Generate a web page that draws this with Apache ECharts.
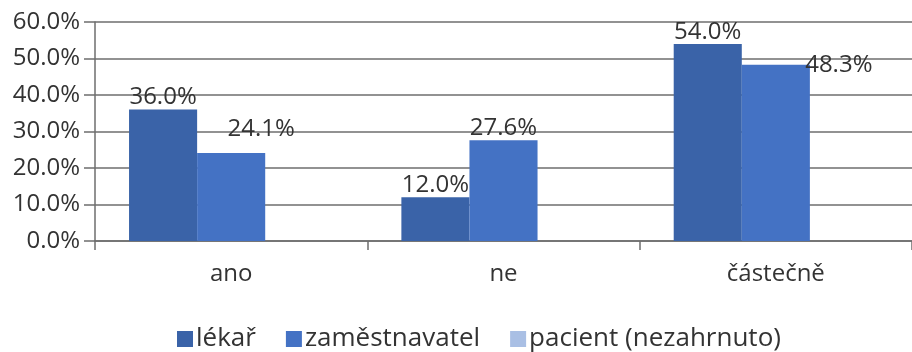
<!DOCTYPE html>
<html>
<head>
<meta charset="utf-8">
<script src="https://cdn.jsdelivr.net/npm/echarts@6/dist/echarts.min.js"></script>
<style>
    html, body { margin: 0; padding: 0; background: #fff; }
    #chart { width: 912px; height: 352px; }
</style>
</head>
<body>
<div id="chart"></div>
<script>
const categories = ['ano', 'ne', 'částečně']
const lekar = [36.0, 12.0, 54.0]
const zamestnavatel = [24.1, 27.6, 48.3]
const pacient = [0, 0, 0]
const yTicks = [0, 10, 20, 30, 40, 50, 60]
// labels moved by hand in the original, one offset per point
const lekarLabelOffsets = [[0, 0], [0, 0], [0, 0]]
const zamLabelOffsets = [[30, -12], [0, 0], [63, 12]]

const font = 'Open Sans'
const textColor = '#333333'
const lineColor = '#6e6e6e'

const chart = echarts.init(document.getElementById('chart'))

function barLabel() {
    return {
        show: true,
        position: 'top',
        distance: 0,
        fontFamily: font,
        fontSize: 24,
        color: textColor,
        formatter: p => p.value.toFixed(1) + '%'
    }
}

function withOffsets(values, offsets) {
    return values.map((v, i) => ({value: v, label: {offset: offsets[i]}}))
}

const option = {
    backgroundColor: '#fff',
    animation: false,
    grid: {left: 95, width: 822, top: 22, bottom: 111, containLabel: false},
    legend: {
        top: 321,
        left: 172,
        itemWidth: 16,
        itemHeight: 16,
        itemGap: 30,
        icon: 'rect',
        textStyle: {fontFamily: font, fontSize: 26, color: textColor, padding: [0, 0, 0, -2]},
        data: ['lékař', 'zaměstnavatel', 'pacient (nezahrnuto)']
    },
    xAxis: {
        type: 'category',
        data: categories,
        axisLine: {show: true, lineStyle: {color: lineColor, width: 1.5}},
        axisTick: {show: true, length: 9, lineStyle: {color: lineColor, width: 1.5}},
        axisLabel: {fontFamily: font, fontSize: 24, color: textColor, margin: 21},
        splitLine: {show: false}
    },
    yAxis: {
        type: 'value',
        min: yTicks[0],
        max: yTicks[yTicks.length - 1],
        interval: 10,
        axisLine: {show: true, lineStyle: {color: lineColor, width: 1.5}},
        axisTick: {show: true, length: 11, lineStyle: {color: lineColor, width: 1.5}},
        axisLabel: {
            fontFamily: font, fontSize: 24, color: textColor, margin: 15,
            formatter: v => v.toFixed(1) + '%'
        },
        splitLine: {show: true, lineStyle: {color: lineColor, width: 1.5}}
    },
    series: [
        {
            name: 'lékař', type: 'bar', data: withOffsets(lekar, lekarLabelOffsets),
            barGap: '0%', barCategoryGap: '25%',
            itemStyle: {color: '#3a63a8'},
            label: barLabel()
        },
        {
            name: 'zaměstnavatel', type: 'bar', data: withOffsets(zamestnavatel, zamLabelOffsets),
            barGap: '0%', barCategoryGap: '25%',
            itemStyle: {color: '#4472c4'},
            label: barLabel()
        },
        {
            name: 'pacient (nezahrnuto)', type: 'bar', data: pacient,
            barGap: '0%', barCategoryGap: '25%',
            itemStyle: {color: '#a9bfe4'}
        }
    ]
}

chart.setOption(option)
</script>
</body>
</html>
